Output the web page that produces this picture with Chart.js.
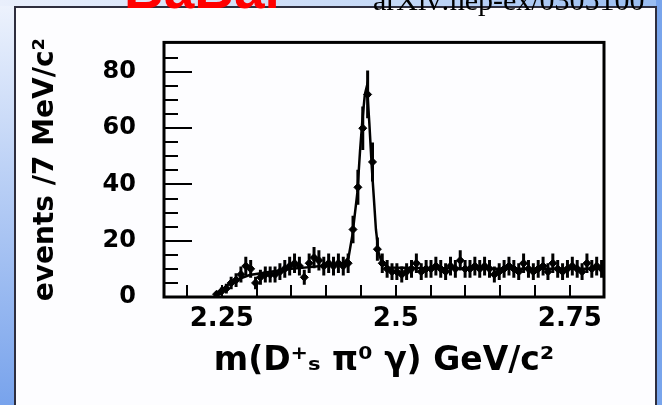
<!DOCTYPE html>
<html><head><meta charset="utf-8">
<script src="https://cdn.jsdelivr.net/npm/chart.js@4.4.1/dist/chart.umd.min.js"></script>
<style>html,body{margin:0;padding:0;background:#fff;overflow:hidden}canvas{display:block}</style>
</head><body>
<div style="width:662px;height:405px;position:relative"><canvas id="c" width="662" height="405"></canvas></div>
<script>
// bin centres, GeV/c^2 (7 MeV bins)
const binCenters = [2.2425,2.2495,2.2565,2.2635,2.2705,2.2775,2.2845,2.2915,2.2985,2.3055,
  2.3125,2.3195,2.3265,2.3335,2.3405,2.3475,2.3545,2.3615,2.3685,2.3755,
  2.3825,2.3895,2.3965,2.4035,2.4105,2.4175,2.4245,2.4315,2.4385,2.4455,
  2.4525,2.4595,2.4665,2.4735,2.4805,2.4875,2.4945,2.5015,2.5085,2.5155,
  2.5225,2.5295,2.5365,2.5435,2.5505,2.5575,2.5645,2.5715,2.5785,2.5855,
  2.5925,2.5995,2.6065,2.6135,2.6205,2.6275,2.6345,2.6415,2.6485,2.6555,
  2.6625,2.6695,2.6765,2.6835,2.6905,2.6975,2.7045,2.7115,2.7185,2.7255,
  2.7325,2.7395,2.7465,2.7535,2.7605,2.7675,2.7745,2.7815,2.7885,2.7955];
// events per bin
const counts = [1,2,3,5,6,8,11,10,5,7,
  8,8,8,9,10,11,12,11,7,12,
  14,13,11,12,11,12,11,12,24,39,
  60,72,48,17,12,10,9,9,8,9,
  10,12,9,10,10,11,10,9,11,10,
  13,10,10,11,10,11,10,8,9,10,
  11,10,9,12,10,9,10,11,9,12,
  10,9,10,11,10,9,12,10,11,10];
// fit curve
const fitMass = [2.240,2.250,2.260,2.275,2.290,2.320,2.350,2.400,2.425,2.432,2.4376,2.4447,2.4486,2.452,2.4555,2.4585,2.4619,2.4655,2.469,2.4714,2.4751,2.480,2.490,2.550,2.650,2.799];
const fitValues = [0,2.5,4.5,6.5,7.8,9,10,11.2,12,14,22,37,52,63,72,75,62,46,33,24,16,12,10.5,10.2,10,10];
const xTickValues = [2.25, 2.5, 2.75];
const yTickValues = [0, 20, 40, 60, 80];
const xMinorTicks = [2.2,2.25,2.3,2.35,2.4,2.45,2.5,2.55,2.6,2.65,2.7,2.75];
const yMinorTicks = [5,10,15,20,25,30,35,40,45,50,55,60,65,70,75,80,85];
const binHalfWidth = 0.0035;

const FONT = "'DejaVu Sans', sans-serif";

const decor = {
  id: 'decor',
  beforeDraw(chart) {
    const ctx = chart.ctx;
    ctx.save();
    let g = ctx.createLinearGradient(0, 0, 0, 405);
    g.addColorStop(0, '#eef3fd'); g.addColorStop(1, '#78a3ec');
    ctx.fillStyle = g; ctx.fillRect(0, 0, 662, 405);
    let g2 = ctx.createLinearGradient(0, 0, 662, 0);
    g2.addColorStop(0, '#e9effc'); g2.addColorStop(0.6, '#c4d8f7'); g2.addColorStop(1, '#98bcf1');
    ctx.fillStyle = g2; ctx.fillRect(0, 0, 662, 6);
    ctx.fillStyle = '#79a5ec'; ctx.fillRect(656, 0, 6, 405);
    ctx.fillStyle = '#fdfdff'; ctx.fillRect(15, 7, 641, 400);
    ctx.strokeStyle = '#2e2e3e'; ctx.lineWidth = 2;
    ctx.strokeRect(15, 7, 641, 420);
    // header texts (clipped at top in the reference)
    ctx.fillStyle = '#ff0000';
    ctx.font = "bold 55px 'Liberation Sans', sans-serif";
    ctx.textBaseline = 'alphabetic';
    ctx.fillText('BaBar', 124, 8);
    ctx.fillStyle = '#000';
    ctx.font = "30px 'Liberation Serif', serif";
    ctx.fillText('arXiv:hep-ex/0305100', 373, 10);
    ctx.restore();
  }
};

const frameAndErrors = {
  id: 'frameAndErrors',
  afterDatasetsDraw(chart) {
    const ctx = chart.ctx, xs = chart.scales.x, ys = chart.scales.y, a = chart.chartArea;
    ctx.save();
    ctx.beginPath(); ctx.rect(a.left, a.top, a.right - a.left, a.bottom - a.top); ctx.clip();
    ctx.strokeStyle = '#000'; ctx.lineWidth = 3;
    binCenters.forEach((m, i) => {
      const v = counts[i], e = Math.sqrt(v);
      const px = xs.getPixelForValue(m);
      ctx.beginPath();
      ctx.moveTo(px, ys.getPixelForValue(v - e)); ctx.lineTo(px, ys.getPixelForValue(v + e));
      ctx.moveTo(xs.getPixelForValue(m - binHalfWidth), ys.getPixelForValue(v));
      ctx.lineTo(xs.getPixelForValue(m + binHalfWidth), ys.getPixelForValue(v));
      ctx.stroke();
    });
    ctx.restore();
    ctx.save();
    ctx.strokeStyle = '#000'; ctx.lineWidth = 2;
    ctx.beginPath();
    xMinorTicks.forEach(t => {
      const px = Math.round(xs.getPixelForValue(t));
      ctx.moveTo(px, a.bottom); ctx.lineTo(px, a.bottom - 12);
    });
    yMinorTicks.forEach(t => {
      const py = Math.round(ys.getPixelForValue(t));
      const len = (t % 20 === 0) ? 28 : 14;
      ctx.moveTo(a.left, py); ctx.lineTo(a.left + len, py);
    });
    ctx.stroke();
    ctx.lineWidth = 3;
    ctx.strokeRect(a.left, a.top, a.right - a.left, a.bottom - a.top);
    ctx.restore();
  }
};

new Chart(document.getElementById('c'), {
  type: 'scatter',
  data: {
    datasets: [
      { label: 'data', data: binCenters.map((m, i) => ({ x: m, y: counts[i] })),
        pointRadius: 4, pointHoverRadius: 4, pointStyle: 'rectRot', backgroundColor: '#000', borderColor: '#000', borderWidth: 1 },
      { label: 'fit', type: 'line', data: fitMass.map((m, i) => ({ x: m, y: fitValues[i] })),
        borderColor: '#000', borderWidth: 2.5, pointRadius: 0, fill: false, tension: 0 }
    ]
  },
  options: {
    responsive: false, animation: false, devicePixelRatio: 1,
    layout: { padding: { left: 0, right: 58, top: 34, bottom: 0 } },
    plugins: { legend: { display: false }, tooltip: { enabled: false } },
    scales: {
      x: {
        type: 'linear', position: 'bottom', min: 2.167, max: 2.799,
        grid: { display: false, drawTicks: false }, border: { display: false },
        afterBuildTicks: s => { s.ticks = xTickValues.map(v => ({ value: v })); },
        afterFit: s => { s.height = 108; },
        ticks: { color: '#000', padding: 7, maxRotation: 0, autoSkip: false,
          font: { family: FONT, weight: 'bold', size: 26 }, callback: v => String(v) },
        title: { display: true, text: 'm(D⁺ₛ π⁰ γ) GeV/c²', color: '#000',
          font: { family: FONT, weight: 'bold', size: 33 }, padding: { top: 0, bottom: 24 } }
      },
      y: {
        type: 'linear', position: 'left', min: 0, max: 90.5,
        grid: { display: false, drawTicks: false }, border: { display: false },
        afterBuildTicks: s => { s.ticks = yTickValues.map(v => ({ value: v })); },
        afterFit: s => { s.width = 164; },
        ticks: { color: '#000', padding: 28, font: { family: FONT, weight: 'bold', size: 24 } },
        title: { display: true, text: 'events /7 MeV/c²', color: '#000',
          font: { family: FONT, weight: 'bold', size: 28 }, padding: { top: 29, bottom: 0 } }
      }
    }
  },
  plugins: [decor, frameAndErrors]
});
</script>
</body></html>
